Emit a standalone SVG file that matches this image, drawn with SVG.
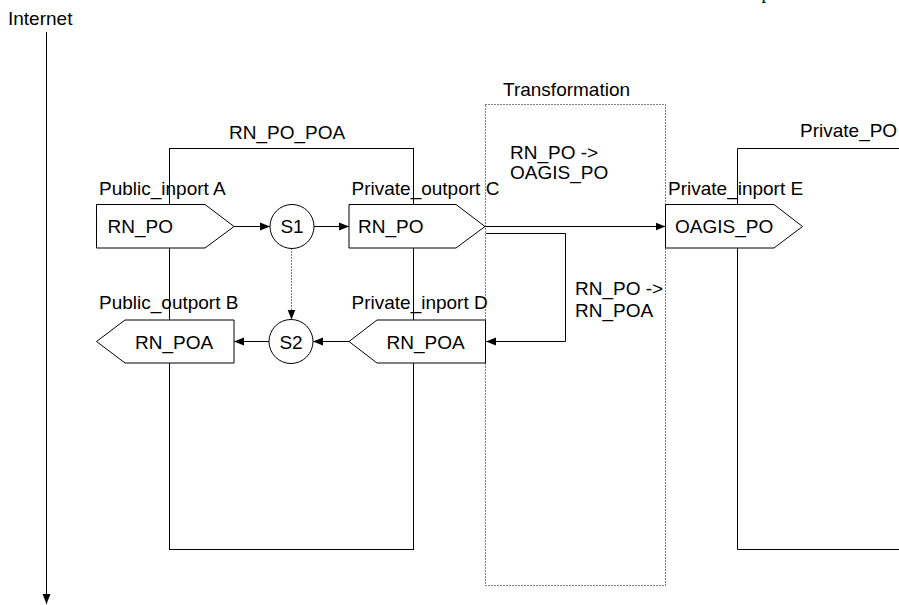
<svg xmlns="http://www.w3.org/2000/svg" width="899" height="605" viewBox="0 0 899 605">
  <style>
    text { font-family: "Liberation Sans", Arial, sans-serif; font-size: 19px; fill: #000; }
    .frame { fill: none; stroke: #000; stroke-width: 1; }
    .zone { fill: none; stroke: #000; stroke-width: 1; stroke-dasharray: 1 2; }
    .port { fill: #fff; stroke: #000; stroke-width: 1; }
    .step { fill: #fff; stroke: #000; stroke-width: 1; }
    .wire { fill: none; stroke: #000; stroke-width: 1; marker-end: url(#arrow); }
    .dots { stroke-dasharray: 1 2; }
  </style>
  <defs>
    <marker id="arrow" markerUnits="userSpaceOnUse" markerWidth="10" markerHeight="9" refX="10" refY="4.5" orient="auto">
      <path d="M0,0.5 L10,4.5 L0,8.5 z" fill="#000"/>
    </marker>
  </defs>

  <rect width="899" height="605" fill="#fff"/>

  <!-- clipped heading glyph at the top edge -->
  <text x="761.5" y="-1.3" style="font-family: 'Liberation Serif', serif; font-size: 19px;">p</text>

  <!-- Internet axis -->
  <g id="internet">
    <text x="8" y="25">Internet</text>
    <line class="wire" x1="46.5" y1="32" x2="46.5" y2="604"/>
  </g>

  <!-- process frames -->
  <g id="rn-po-poa">
    <rect class="frame" x="169.5" y="148.5" width="244" height="401"/>
    <text x="229" y="139">RN_PO_POA</text>
  </g>
  <g id="transformation">
    <rect class="zone" x="485.5" y="104.5" width="180" height="481"/>
    <text x="503" y="96">Transformation</text>
    <text x="510" y="159">RN_PO -&gt;</text>
    <text x="510" y="179">OAGIS_PO</text>
    <text x="575" y="295">RN_PO -&gt;</text>
    <text x="575" y="317">RN_POA</text>
  </g>
  <g id="private-po">
    <polyline class="frame" points="905,148.5 737.5,148.5 737.5,549.5 905,549.5"/>
    <text x="800" y="137">Private_PO</text>
  </g>

  <!-- connectors -->
  <g id="connectors">
    <line class="wire" x1="234" y1="226.5" x2="270" y2="226.5"/>
    <line class="wire" x1="314" y1="226.5" x2="349" y2="226.5"/>
    <line class="wire dots" x1="291.5" y1="248.5" x2="291.5" y2="319.5"/>
    <line class="wire" x1="349" y1="341.5" x2="313" y2="341.5"/>
    <line class="wire" x1="269" y1="341.5" x2="234" y2="341.5"/>
    <line class="wire" x1="485" y1="226.5" x2="665.5" y2="226.5"/>
    <polyline class="wire" points="486,233.5 565.5,233.5 565.5,341.5 486,341.5"/>
  </g>

  <!-- ports -->
  <g id="public-inport-a">
    <text x="99" y="195">Public_inport A</text>
    <polygon class="port" points="96.5,204.5 205,204.5 234,226.5 205,248 96.5,248"/>
    <text x="107.5" y="233">RN_PO</text>
  </g>
  <g id="private-outport-c">
    <text x="351.5" y="195">Private_outport C</text>
    <polygon class="port" points="349,204.5 456,204.5 485,226.5 456,248 349,248"/>
    <text x="358" y="233">RN_PO</text>
  </g>
  <g id="public-outport-b">
    <text x="99" y="309">Public_outport B</text>
    <polygon class="port" points="96.5,341.5 125,320 234,320 234,363 125,363"/>
    <text x="135" y="348.5">RN_POA</text>
  </g>
  <g id="private-inport-d">
    <text x="351.5" y="309">Private_inport D</text>
    <polygon class="port" points="349,341.5 377,320 485.5,320 485.5,363 377,363"/>
    <text x="386.5" y="348.5">RN_POA</text>
  </g>
  <g id="private-inport-e">
    <text x="668" y="194.5">Private_inport E</text>
    <polygon class="port" points="665.5,204.5 774,204.5 802.5,226.5 774,248 665.5,248"/>
    <text x="675" y="233">OAGIS_PO</text>
  </g>

  <!-- steps -->
  <g id="s1">
    <circle class="step" cx="292" cy="226.5" r="22"/>
    <text x="292" y="233" text-anchor="middle">S1</text>
  </g>
  <g id="s2">
    <circle class="step" cx="291" cy="341.5" r="22"/>
    <text x="291" y="348.5" text-anchor="middle">S2</text>
  </g>
</svg>
